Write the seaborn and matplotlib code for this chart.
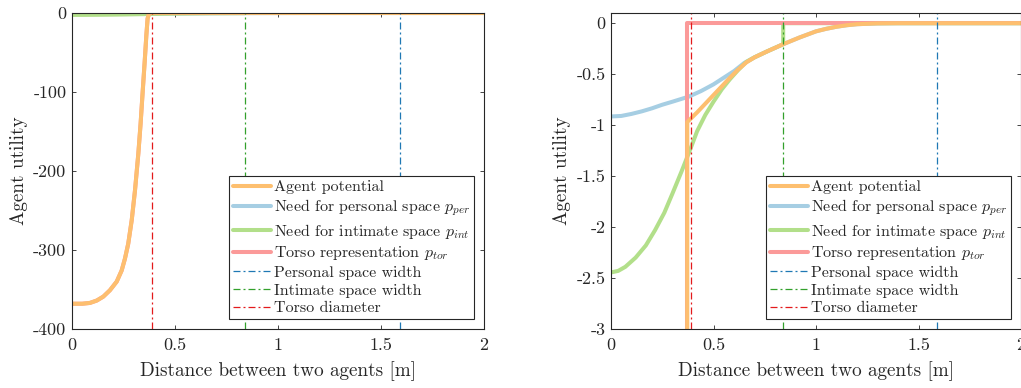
import matplotlib
matplotlib.use("Agg")
import matplotlib.pyplot as plt
import seaborn as sns
import pandas as pd
from matplotlib.lines import Line2D

# ---------------- data ----------------
# need for personal space p_per
per_x = [0.0, 0.05, 0.1, 0.15, 0.2, 0.25, 0.3, 0.38, 0.44, 0.5, 0.55, 0.6, 0.65, 0.7,
         0.76, 0.84, 0.92, 1.0, 1.05, 1.1, 1.15, 1.2, 1.3, 1.4, 2.0]
per_y = [-0.915, -0.91, -0.89, -0.865, -0.835, -0.80, -0.77, -0.72, -0.665, -0.60, -0.535,
         -0.47, -0.39, -0.335, -0.278, -0.206, -0.14, -0.08, -0.055, -0.035, -0.02, -0.01,
         -0.002, 0.0, 0.0]

# need for intimate space p_int (truncated at intimate space width)
int_x = [0.0, 0.035, 0.07, 0.12, 0.17, 0.215, 0.26, 0.3, 0.345, 0.39, 0.42, 0.46, 0.5,
         0.54, 0.58, 0.62, 0.66, 0.7, 0.76, 0.84, 0.84, 2.0]
int_y = [-2.445, -2.43, -2.39, -2.30, -2.18, -2.03, -1.86, -1.67, -1.45, -1.22, -1.06,
         -0.90, -0.77, -0.65, -0.55, -0.46, -0.38, -0.335, -0.278, -0.206, 0.0, 0.0]

# right panel: torso representation (hard wall) and agent potential
tor_x_r = [0.372, 0.372, 2.0]
tor_y_r = [-3.2, 0.0, 0.0]
agent_x_r = [0.372, 0.372, 0.42, 0.46, 0.5, 0.54, 0.58, 0.62, 0.66, 0.7, 0.76, 0.84, 0.92,
             1.0, 1.05, 1.1, 1.15, 1.2, 1.3, 1.4, 2.0]
agent_y_r = [-3.2, -0.97, -0.875, -0.79, -0.705, -0.62, -0.535, -0.455, -0.385, -0.335,
             -0.278, -0.206, -0.14, -0.08, -0.055, -0.035, -0.02, -0.01, -0.002, 0.0, 0.0]

# left panel: smooth torso representation and agent potential
agent_x_l = [0.0, 0.05, 0.087, 0.12, 0.152, 0.184, 0.217, 0.241, 0.257, 0.273, 0.29,
             0.306, 0.322, 0.333, 0.343, 0.353, 0.361, 0.367, 0.375, 2.0]
agent_y_l = [-368, -368, -367, -364, -359, -351, -340, -326, -311, -292, -262,
             -224, -178, -140, -100, -61, -28, -7, 0, 0]
tor_x_l = agent_x_l
tor_y_l = agent_y_l

# reference widths
personal_width = 1.59
intimate_width = 0.84
torso_diameter = 0.39

labels = ["Agent potential", "Need for personal space $p_{per}$",
          "Need for intimate space $p_{int}$", "Torso representation $p_{tor}$",
          "Personal space width", "Intimate space width", "Torso diameter"]

x_ticks = [0, 0.5, 1, 1.5, 2]
x_ticklabels = ["0", "0.5", "1", "1.5", "2"]
yl_ticks = [0, -100, -200, -300, -400]
yl_ticklabels = ["0", "-100", "-200", "-300", "-400"]
yr_ticks = [0, -0.5, -1, -1.5, -2, -2.5, -3]
yr_ticklabels = ["0", "-0.5", "-1", "-1.5", "-2", "-2.5", "-3"]

# ---------------- style ----------------
sns.set_theme(style="ticks")
pal = sns.color_palette("Paired")
c_orange, c_blue, c_green, c_pink = pal[6], pal[0], pal[2], pal[4]
c_dblue, c_dgreen, c_red = pal[1], pal[3], pal[5]

plt.rcParams.update({
    "font.family": "serif",
    "font.serif": ["cmr10", "DejaVu Serif"],
    "mathtext.fontset": "cm",
    "axes.unicode_minus": False,
    "axes.formatter.use_mathtext": True,
    "xtick.direction": "in", "ytick.direction": "in",
    "xtick.top": True, "ytick.right": True,
    "xtick.major.size": 3, "ytick.major.size": 3,
    "xtick.major.width": 0.6, "ytick.major.width": 0.6,
    "xtick.major.pad": 6, "ytick.major.pad": 4,
    "axes.edgecolor": "#262626", "axes.linewidth": 0.8,
    "xtick.color": "#262626", "ytick.color": "#262626",
})

fig = plt.figure(figsize=(10.21, 3.88), dpi=100)
W, H = 1021, 388
axL = fig.add_axes([72 / W, 1 - 329 / H, (484 - 72) / W, (329 - 13) / H])
axR = fig.add_axes([611 / W, 1 - 329 / H, (1021 - 611) / W, (329 - 13) / H])

LW = 2.9
dash = (0, (5.6, 2.4, 1.6, 2.4))


def draw(ax, agent_x, agent_y, tor_x, tor_y):
    for xs, ys, c in [(per_x, per_y, c_blue), (int_x, int_y, c_green),
                      (tor_x, tor_y, c_pink), (agent_x, agent_y, c_orange)]:
        df = pd.DataFrame({"x": xs, "y": ys})
        sns.lineplot(data=df, x="x", y="y", sort=False, estimator=None,
                     color=c, lw=LW, ax=ax, legend=False)
    ax.axvline(personal_width, color=c_dblue, lw=0.9, ls=dash)
    ax.axvline(intimate_width, color=c_dgreen, lw=0.9, ls=dash)
    ax.axvline(torso_diameter, color=c_red, lw=0.9, ls=dash)
    ax.set_xlim(0, 2)
    ax.set_xticks(x_ticks)
    ax.set_xticklabels(x_ticklabels)
    ax.set_xlabel("Distance between two agents [m]", fontsize=13.8, labelpad=6)
    ax.set_ylabel("Agent utility", fontsize=13.8)
    ax.tick_params(labelsize=13)
    for s in ax.spines.values():
        s.set_visible(True)
    handles = [Line2D([], [], color=c_orange, lw=LW),
               Line2D([], [], color=c_blue, lw=LW),
               Line2D([], [], color=c_green, lw=LW),
               Line2D([], [], color=c_pink, lw=LW),
               Line2D([], [], color=c_dblue, lw=0.9, ls=dash),
               Line2D([], [], color=c_dgreen, lw=0.9, ls=dash),
               Line2D([], [], color=c_red, lw=0.9, ls=dash)]
    leg = ax.legend(handles, labels, loc="lower right", fontsize=11.5,
                    frameon=True, fancybox=False, edgecolor="#262626",
                    framealpha=1, handlelength=2.4, handletextpad=0.2,
                    borderpad=0.25, labelspacing=0.22, borderaxespad=0.6)
    leg.get_frame().set_linewidth(0.8)


draw(axL, agent_x_l, agent_y_l, tor_x_l, tor_y_l)
axL.set_ylim(-400, 0)
axL.set_yticks(yl_ticks)
axL.set_yticklabels(yl_ticklabels)

draw(axR, agent_x_r, agent_y_r, tor_x_r, tor_y_r)
axR.set_ylim(-3, 0.1)
axR.set_yticks(yr_ticks)
axR.set_yticklabels(yr_ticklabels)

fig.savefig("out.png", dpi=100)
